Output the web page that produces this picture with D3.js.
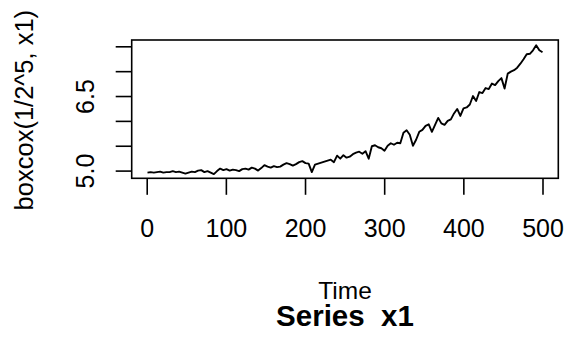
<!DOCTYPE html>
<html>
<head>
<meta charset="utf-8">
<script src="https://cdn.jsdelivr.net/npm/d3@7"></script>
<style>
  html, body { margin: 0; padding: 0; background: #fff; }
  svg { display: block; }
  text { font-family: "Liberation Sans", Arial, sans-serif; fill: #000; }
</style>
</head>
<body>
<svg id="chart" width="566" height="337"></svg>
<script>
// ---- data ----
const tStart = 1, tEnd = 500;
const seriesValues = [
  4.96, 4.97, 4.96, 4.97, 4.98, 4.96, 4.97, 4.97, 4.99, 4.97,
  4.98, 4.96, 4.94, 4.96, 4.98, 4.97, 5.00, 5.01, 4.97, 4.99,
  4.96, 4.93, 4.99, 5.04, 5.01, 5.03, 5.00, 5.02, 5.01, 4.99,
  5.03, 5.04, 5.02, 5.06, 5.04, 5.00, 5.05, 5.11, 5.08, 5.06,
  5.09, 5.07, 5.08, 5.12, 5.15, 5.13, 5.10, 5.13, 5.17, 5.19,
  5.15, 5.14, 4.97, 5.12, 5.14, 5.16, 5.18, 5.20, 5.22, 5.17,
  5.30, 5.24, 5.31, 5.26, 5.28, 5.33, 5.36, 5.38, 5.34, 5.39,
  5.24, 5.49, 5.51, 5.47, 5.45, 5.40, 5.50, 5.55, 5.52, 5.56,
  5.55, 5.76, 5.81, 5.72, 5.50, 5.62, 5.78, 5.82, 5.90, 5.93,
  5.78, 5.92, 6.06, 5.95, 5.92, 6.00, 6.03, 6.15, 6.24, 6.10,
  6.25, 6.27, 6.33, 6.50, 6.40, 6.58, 6.56, 6.66, 6.64, 6.75,
  6.72, 6.80, 6.86, 6.65, 6.95, 6.99, 7.02, 7.07, 7.15, 7.24,
  7.34, 7.35, 7.42, 7.52, 7.42, 7.38
];
const xTicks = [0, 100, 200, 300, 400, 500];
const xTickLabels = ["0", "100", "200", "300", "400", "500"];
const yTicks = [5.0, 5.5, 6.0, 6.5, 7.0, 7.5];
const yTickLabels = ["5.0", "", "", "6.5", "", ""];
const xTitle = "Time";
const yTitle = "boxcox(1/2^5, x1)";
const mainTitle = "Series  x1";

// ---- layout ----
const plot = { left: 131.7, right: 558.3, top: 40, bottom: 178.3 };
const pad = 0.04 * (tEnd - tStart);

const times = seriesValues.map((v, i) => tStart + i * (tEnd - tStart) / (seriesValues.length - 1));
const data = seriesValues.map((v, i) => ({ t: times[i], v }));

const x = d3.scaleLinear().domain([tStart - pad, tEnd + pad]).range([plot.left, plot.right]);
const y = d3.scaleLinear().domain([4.845, 7.627]).range([plot.bottom, plot.top]);

const svg = d3.select("#chart");

// data line
svg.append("path")
  .datum(data)
  .attr("fill", "none")
  .attr("stroke", "#000")
  .attr("stroke-width", 1.9)
  .attr("stroke-linejoin", "round")
  .attr("d", d3.line().x(d => x(d.t)).y(d => y(d.v)));

// box
svg.append("rect")
  .attr("x", plot.left).attr("y", plot.top)
  .attr("width", plot.right - plot.left).attr("height", plot.bottom - plot.top)
  .attr("fill", "none").attr("stroke", "#000").attr("stroke-width", 1.6);

// x axis
const gx = svg.append("g")
  .attr("transform", `translate(0,${plot.bottom})`)
  .call(d3.axisBottom(x).tickValues(xTicks).tickSize(16.5).tickSizeOuter(0)
    .tickFormat((d, i) => xTickLabels[i]));
gx.select(".domain").remove();
gx.selectAll(".tick line").attr("stroke", "#000").attr("stroke-width", 1.6);
gx.selectAll(".tick text")
  .attr("y", 58.7).attr("dy", 0)
  .attr("font-size", 25).attr("font-family", "Liberation Sans, Arial, sans-serif")
  .attr("fill", "#000");

// y axis
const gy = svg.append("g")
  .attr("transform", `translate(${plot.left},0)`)
  .call(d3.axisLeft(y).tickValues(yTicks).tickSize(16).tickSizeOuter(0)
    .tickFormat((d, i) => yTickLabels[i]));
gy.select(".domain").remove();
gy.selectAll(".tick line").attr("stroke", "#000").attr("stroke-width", 1.6);
gy.selectAll(".tick text")
  .attr("x", 0).attr("y", 0).attr("dy", 0)
  .attr("text-anchor", "middle")
  .attr("transform", `translate(${94 - plot.left},0) rotate(-90)`)
  .attr("font-size", 25).attr("font-family", "Liberation Sans, Arial, sans-serif")
  .attr("fill", "#000");

// titles
const cx = (plot.left + plot.right) / 2;
svg.append("text")
  .attr("x", cx).attr("y", 299)
  .attr("text-anchor", "middle").attr("font-size", 24.5)
  .text(xTitle);

svg.append("text")
  .attr("x", cx).attr("y", 325.5)
  .attr("text-anchor", "middle").attr("font-size", 29.5).attr("font-weight", "bold")
  .style("white-space", "pre")
  .text(mainTitle);

svg.append("text")
  .attr("transform", `translate(33,${(plot.top + plot.bottom) / 2 + 1}) rotate(-90)`)
  .attr("text-anchor", "middle").attr("font-size", 25.5)
  .text(yTitle);
</script>
</body>
</html>
